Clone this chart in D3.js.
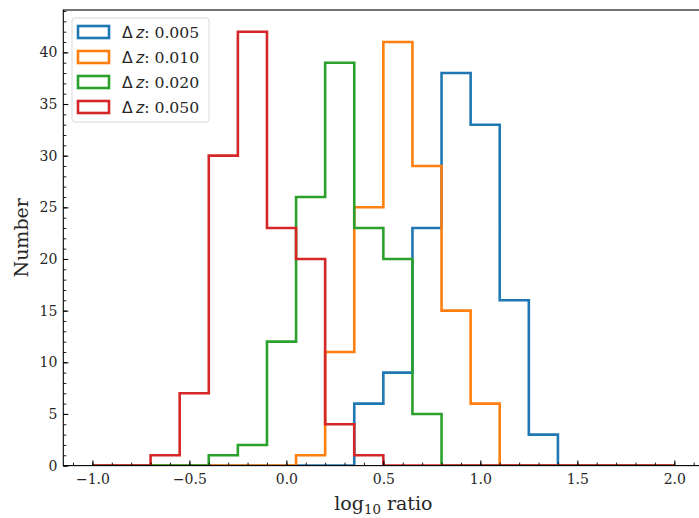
<!DOCTYPE html>
<html>
<head>
<meta charset="utf-8">
<script src="https://cdn.jsdelivr.net/npm/d3@7"></script>
<style>
  html, body { margin: 0; padding: 0; background: #fff; }
  svg { display: block; }
  text { font-family: "DejaVu Serif", serif; fill: #262626; }
</style>
</head>
<body>
<svg id="chart" width="699" height="518"></svg>
<script>
const binEdges = [-1.0, -0.85, -0.7, -0.55, -0.4, -0.25, -0.1, 0.05, 0.2, 0.35, 0.5, 0.65, 0.8, 0.95, 1.1, 1.25, 1.4, 1.55, 1.7, 1.85, 2.0];
const seriesLabels = ["0.005", "0.010", "0.020", "0.050"];
const seriesColors = ["#1f77b4", "#ff7f0e", "#2ca02c", "#d62728"];
const counts005 = [0, 0, 0, 0, 0, 0, 0, 0, 0, 6, 9, 23, 38, 33, 16, 3, 0, 0, 0, 0];
const counts010 = [0, 0, 0, 0, 0, 0, 0, 1, 11, 25, 41, 29, 15, 6, 0, 0, 0, 0, 0, 0];
const counts020 = [0, 0, 0, 0, 1, 2, 12, 26, 39, 23, 20, 5, 0, 0, 0, 0, 0, 0, 0, 0];
const counts050 = [0, 0, 1, 7, 30, 42, 23, 20, 4, 1, 0, 0, 0, 0, 0, 0, 0, 0, 0, 0];
const seriesCounts = [counts005, counts010, counts020, counts050];
const xTicks = [-1.0, -0.5, 0.0, 0.5, 1.0, 1.5, 2.0];
const yTicks = [0, 5, 10, 15, 20, 25, 30, 35, 40];

(function () {
const svg = d3.select("#chart");
const mL = 63.3, mR = 703.4, mT = 10, mB = 465.6;

const x = d3.scaleLinear().domain([-1.15, 2.15]).range([mL, mR]);
const y = d3.scaleLinear().domain([0, 44.1]).range([mB, mT]);

svg.append("defs").append("clipPath").attr("id", "clip")
  .append("rect").attr("x", mL).attr("y", mT)
  .attr("width", mR - mL).attr("height", mB - mT);

const plot = svg.append("g").attr("clip-path", "url(#clip)");

const line = d3.line().x(d => x(d[0])).y(d => y(d[1]));

seriesCounts.forEach((counts, si) => {
  const pts = [[binEdges[0], 0]];
  counts.forEach((c, i) => {
    pts.push([binEdges[i], c]);
    pts.push([binEdges[i + 1], c]);
  });
  pts.push([binEdges[binEdges.length - 1], 0]);
  plot.append("path")
    .attr("d", line(pts))
    .attr("fill", "none")
    .attr("stroke", seriesColors[si])
    .attr("stroke-width", 2.6)
    .attr("stroke-linejoin", "miter");
});

const xMinor = d3.range(-11, 22).map(v => v / 10).filter(v => v >= -1.15 && v <= 2.15);
const yMinor = d3.range(0, 45);

const xAxis = d3.axisBottom(x).tickValues(xTicks).tickFormat(d => d3.format(".1f")(d).replace("-", "\u2212"))
  .tickSizeInner(-5).tickSizeOuter(0).tickPadding(8);
const gx = svg.append("g").attr("transform", `translate(0,${mB})`).call(xAxis);
gx.select(".domain").remove();
gx.selectAll("text").attr("font-size", 14).attr("font-family", "DejaVu Serif").attr("fill", "#262626");
gx.selectAll(".tick line").attr("stroke", "#000").attr("stroke-width", 1.1);

const xAxisMinor = d3.axisBottom(x).tickValues(xMinor).tickFormat("").tickSizeInner(-3).tickSizeOuter(0);
const gxm = svg.append("g").attr("transform", `translate(0,${mB})`).call(xAxisMinor);
gxm.select(".domain").remove();
gxm.selectAll(".tick line").attr("stroke", "#000").attr("stroke-width", 0.9);

const yAxis = d3.axisLeft(y).tickValues(yTicks).tickFormat(d3.format("d"))
  .tickSizeInner(-5).tickSizeOuter(0).tickPadding(6);
const gy = svg.append("g").attr("transform", `translate(${mL},0)`).call(yAxis);
gy.select(".domain").remove();
gy.selectAll("text").attr("font-size", 14).attr("font-family", "DejaVu Serif").attr("fill", "#262626");
gy.selectAll(".tick line").attr("stroke", "#000").attr("stroke-width", 1.1);

const yAxisMinor = d3.axisLeft(y).tickValues(yMinor).tickFormat("").tickSizeInner(-3).tickSizeOuter(0);
const gym = svg.append("g").attr("transform", `translate(${mL},0)`).call(yAxisMinor);
gym.select(".domain").remove();
gym.selectAll(".tick line").attr("stroke", "#000").attr("stroke-width", 0.9);

svg.append("rect").attr("x", mL).attr("y", mT)
  .attr("width", mR - mL).attr("height", mB - mT)
  .attr("fill", "none").attr("stroke", "#000").attr("stroke-width", 1.1);

const xl = svg.append("text").attr("x", (mL + mR) / 2).attr("y", 510)
  .attr("text-anchor", "middle").attr("font-size", 19);
xl.append("tspan").text("log");
xl.append("tspan").attr("font-size", 13.3).attr("dy", 4).text("10");
xl.append("tspan").attr("dy", -4).text(" ratio");

svg.append("text")
  .attr("transform", `translate(28,${(mT + mB) / 2}) rotate(-90)`)
  .attr("text-anchor", "middle").attr("font-size", 19).text("Number");

const lg = svg.append("g");
lg.append("rect").attr("x", 72).attr("y", 18).attr("width", 137).attr("height", 104)
  .attr("rx", 3).attr("fill", "#fff").attr("fill-opacity", 0.8)
  .attr("stroke", "#d9d9d9").attr("stroke-width", 1);
seriesLabels.forEach((lab, i) => {
  const cy = 32 + i * 25;
  lg.append("rect").attr("x", 78).attr("y", cy - 6).attr("width", 31).attr("height", 12)
    .attr("fill", "none").attr("stroke", seriesColors[i]).attr("stroke-width", 2.6);
  const t = lg.append("text").attr("x", 122).attr("y", cy + 5.5).attr("font-size", 15.7);
  t.append("tspan").attr("font-family", "DejaVu Sans").text("\u0394\u2009");
  t.append("tspan").attr("font-family", "DejaVu Sans").attr("font-style", "oblique").text("z");
  t.append("tspan").text(": " + lab);
});
})();
</script>
</body>
</html>
